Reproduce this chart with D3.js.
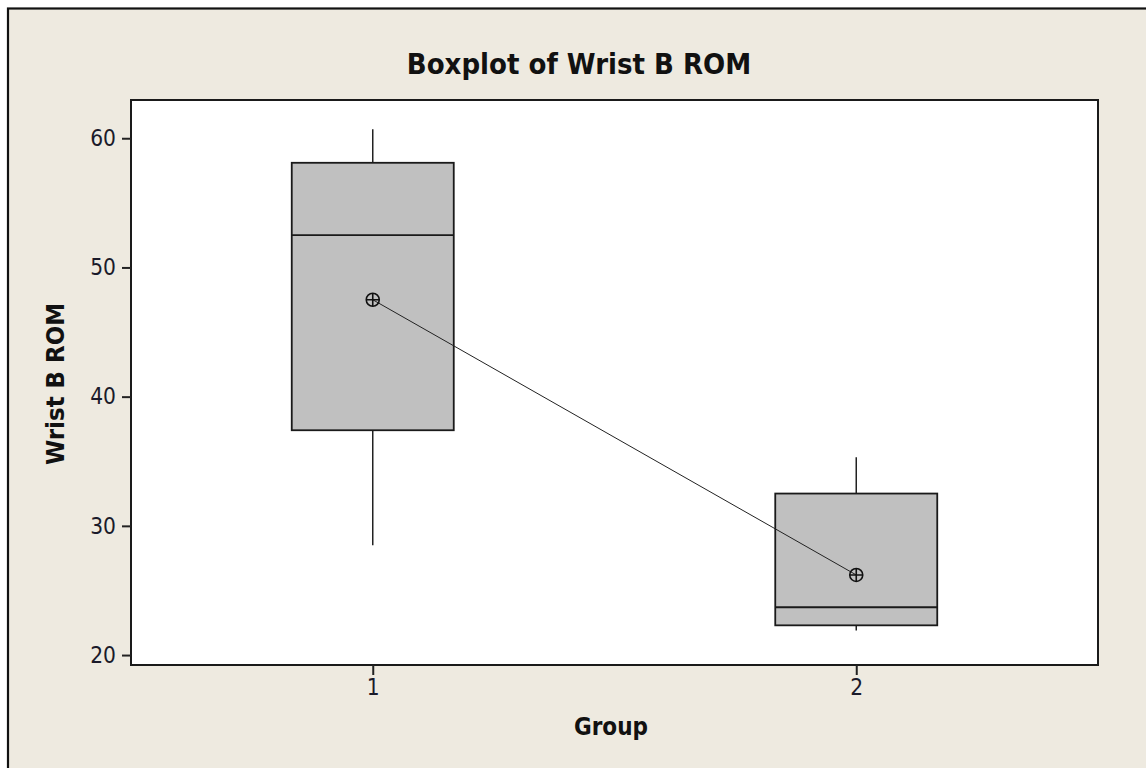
<!DOCTYPE html>
<html>
<head>
<meta charset="utf-8">
<script src="https://cdn.jsdelivr.net/npm/d3@7"></script>
<style>
  body { margin: 0; background: #ffffff; }
  svg { display: block; }
  .tick text { font-family: "DejaVu Sans Condensed", "DejaVu Sans", sans-serif; font-size: 22.5px; fill: #1a1a2a; }
</style>
</head>
<body>
<svg id="chart" width="1146" height="768"></svg>
<script>
// values
var groups = ["1", "2"];
var whiskerLow = [28.5, 21.9];
var q1 = [37.4, 22.3];
var median = [52.5, 23.7];
var q3 = [58.1, 32.5];
var whiskerHigh = [60.7, 35.3];
var means = [47.5, 26.2];
var yTicks = [20, 30, 40, 50, 60];

var svg = d3.select("#chart"),
    W = 1146, H = 768,
    plot = {left: 131, top: 100, right: 1098, bottom: 665},
    boxHalf = 81;

// frame background
svg.append("rect").attr("x", 0).attr("y", 0).attr("width", W).attr("height", H).attr("fill", "#ffffff");
svg.append("rect")
    .attr("x", 8).attr("y", 8.5).attr("width", W + 20).attr("height", H + 20)
    .attr("fill", "#eeeae0").attr("stroke", "#111").attr("stroke-width", 2.2);

svg.append("rect")
    .attr("x", plot.left).attr("y", plot.top)
    .attr("width", plot.right - plot.left).attr("height", plot.bottom - plot.top)
    .attr("fill", "#ffffff");

var x = d3.scaleLinear().domain([0.5, 2.5]).range([plot.left, plot.right]);
var y = d3.scaleLinear().domain([19.23, 62.96]).range([plot.bottom, plot.top]);

var data = groups.map(function (g, i) {
    return {g: +g, lo: whiskerLow[i], q1: q1[i], med: median[i], q3: q3[i], hi: whiskerHigh[i], mean: means[i]};
});

var boxes = svg.append("g").selectAll("g.box")
    .data(data)
    .enter()
    .append("g")
    .attr("class", "box");

// whiskers
boxes.append("line")
    .attr("x1", function (d) { return x(d.g); })
    .attr("x2", function (d) { return x(d.g); })
    .attr("y1", function (d) { return y(d.q3); })
    .attr("y2", function (d) { return y(d.hi); })
    .attr("stroke", "#222").attr("stroke-width", 1.5);
boxes.append("line")
    .attr("x1", function (d) { return x(d.g); })
    .attr("x2", function (d) { return x(d.g); })
    .attr("y1", function (d) { return y(d.q1); })
    .attr("y2", function (d) { return y(d.lo); })
    .attr("stroke", "#222").attr("stroke-width", 1.5);

boxes.append("rect")
    .attr("x", function (d) { return x(d.g) - boxHalf; })
    .attr("y", function (d) { return y(d.q3); })
    .attr("width", boxHalf * 2)
    .attr("height", function (d) { return y(d.q1) - y(d.q3); })
    .attr("fill", "#c0c0c0").attr("stroke", "#1a1a1a").attr("stroke-width", 1.8);

boxes.append("line")
    .attr("x1", function (d) { return x(d.g) - boxHalf; })
    .attr("x2", function (d) { return x(d.g) + boxHalf; })
    .attr("y1", function (d) { return y(d.med); })
    .attr("y2", function (d) { return y(d.med); })
    .attr("stroke", "#1a1a1a").attr("stroke-width", 1.8);

// mean connect line
svg.append("path")
    .datum(data)
    .attr("fill", "none").attr("stroke", "#222").attr("stroke-width", 1)
    .attr("d", d3.line().x(function (d) { return x(d.g); }).y(function (d) { return y(d.mean); }));

var sym = svg.append("g").selectAll("g.mean")
    .data(data)
    .enter()
    .append("g")
    .attr("transform", function (d) { return "translate(" + x(d.g) + "," + y(d.mean) + ")"; });
sym.append("circle").attr("r", 6.5).attr("fill", "none").attr("stroke", "#111").attr("stroke-width", 1.6);
sym.append("path").attr("d", "M-6.5,0H6.5M0,-6.5V6.5").attr("stroke", "#111").attr("stroke-width", 1.6);

// plot border
svg.append("rect")
    .attr("x", plot.left).attr("y", plot.top)
    .attr("width", plot.right - plot.left).attr("height", plot.bottom - plot.top)
    .attr("fill", "none").attr("stroke", "#1a1a1a").attr("stroke-width", 2);

// axes
var yAxis = svg.append("g")
    .attr("transform", "translate(" + plot.left + ",0)")
    .call(d3.axisLeft(y).tickValues(yTicks).tickSize(9).tickPadding(6));
var xAxis = svg.append("g")
    .attr("transform", "translate(0," + plot.bottom + ")")
    .call(d3.axisBottom(x).tickValues(groups.map(Number)).tickFormat(d3.format("d")).tickSize(10).tickPadding(4));
[yAxis, xAxis].forEach(function (a) {
    a.select(".domain").remove();
    a.selectAll(".tick line").attr("stroke", "#222").attr("stroke-width", 2);
});

// titles
var font = "'DejaVu Sans Condensed', 'DejaVu Sans', sans-serif";
svg.append("text")
    .attr("x", 579).attr("y", 74)
    .attr("text-anchor", "middle")
    .style("font-family", font)
    .style("font-weight", "bold").style("font-size", "29px").attr("fill", "#111")
    .text("Boxplot of Wrist B ROM");

svg.append("text")
    .attr("x", 611).attr("y", 735)
    .attr("text-anchor", "middle")
    .style("font-family", font)
    .style("font-weight", "bold").style("font-size", "24px").attr("fill", "#111")
    .text("Group");

svg.append("text")
    .attr("transform", "translate(64,384) rotate(-90)")
    .attr("text-anchor", "middle")
    .style("font-family", font)
    .style("font-weight", "bold").style("font-size", "25.5px").attr("fill", "#111")
    .text("Wrist B ROM");
</script>
</body>
</html>
